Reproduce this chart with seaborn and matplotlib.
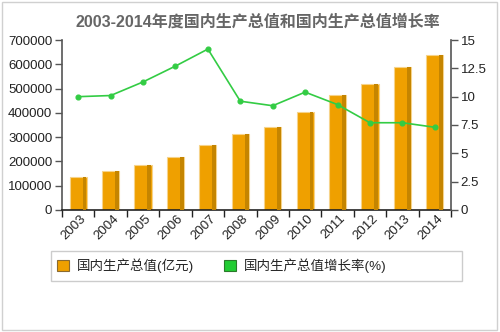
import numpy as np
import matplotlib
matplotlib.use("Agg")
import matplotlib.pyplot as plt
import matplotlib.transforms as mtrans
import seaborn as sns
from matplotlib.patches import Rectangle
from matplotlib.ticker import FixedLocator

years = ["2003", "2004", "2005", "2006", "2007", "2008", "2009", "2010", "2011", "2012", "2013", "2014"]
gdp = [135823, 159878, 184937, 216314, 265810, 314045, 340903, 401513, 473104, 519470, 588019, 636463]
growth = [10.0, 10.1, 11.3, 12.7, 14.2, 9.6, 9.2, 10.4, 9.3, 7.7, 7.7, 7.3]
left_ticks = [0, 100000, 200000, 300000, 400000, 500000, 600000, 700000]
right_ticks = [0, 2.5, 5, 7.5, 10, 12.5, 15]
right_labels = ["0", "2.5", "5", "7.5", "10", "12.5", "15"]
title = "2003-2014年度国内生产总值和国内生产总值增长率"
label_bar = "国内生产总值(亿元)"
label_line = "国内生产总值增长率(%)"

sns.set_theme(style="white")
FAM = ["Liberation Sans", "Noto Sans CJK SC", "DejaVu Sans"]
plt.rcParams["font.family"] = FAM

BAR = "#efa000"
DARK = "#c58500"
GREEN = "#33cc44"

fig = plt.figure(figsize=(5.0, 3.32), dpi=100)
ax = fig.add_axes([0.124, 0.3675, 0.778, 0.512])

bw = 0.53
sns.barplot(x=years, y=gdp, ax=ax, color=BAR, width=bw, saturation=1,
            edgecolor="#f6d38a", linewidth=0.8, zorder=2)
idx = np.arange(len(years))
ax.bar(idx + bw / 2 - 0.07, gdp, width=0.12, color=DARK, linewidth=0, zorder=3)

ax.set_xlim(-0.5, len(years) - 0.5)
ax.set_ylim(0, 700000)
ax.set_yticks(left_ticks)
ax.set_yticklabels([str(v) for v in left_ticks])
ax.set_xlabel("")
ax.set_ylabel("")
ax.xaxis.set_minor_locator(FixedLocator(np.arange(-0.5, len(years), 1.0)))
ax.tick_params(axis="x", which="major", length=0, pad=5, labelsize=9.5, labelcolor="#222222")
ax.tick_params(axis="x", which="minor", length=5, width=1, color="#222222", direction="out", bottom=True)
ax.tick_params(axis="y", length=5, width=1, color="#555555", direction="out", left=True,
               labelsize=9.5, labelcolor="#222222", pad=2)
offset = mtrans.ScaledTranslation(6 / 100, 0, fig.dpi_scale_trans)
for lab in ax.get_xticklabels():
    lab.set_rotation(45)
    lab.set_ha("right")
    lab.set_rotation_mode("anchor")
    lab.set_va("center")
    lab.set_transform(lab.get_transform() + offset)

for s in ["top", "right"]:
    ax.spines[s].set_visible(False)
ax.spines["left"].set_color("#555555")
ax.spines["bottom"].set_color("#222222")
ax.spines["left"].set_linewidth(1.2)
ax.spines["bottom"].set_linewidth(1.2)
ax.grid(False)

ax2 = ax.twinx()
sns.pointplot(x=years, y=growth, ax=ax2, color=GREEN, markersize=3.5, linewidth=1.2,
              errorbar=None, zorder=5)
ax2.set_xlim(-0.5, len(years) - 0.5)
ax2.set_ylim(0, 15)
ax2.set_yticks(right_ticks)
ax2.set_yticklabels(right_labels)
ax2.set_ylabel("")
ax2.tick_params(axis="y", length=5, width=1, color="#555555", direction="out", right=True,
                labelsize=9.5, labelcolor="#222222", pad=2)
for s in ["top", "left", "bottom"]:
    ax2.spines[s].set_visible(False)
ax2.spines["right"].set_color("#555555")
ax2.spines["right"].set_linewidth(1.2)
ax2.grid(False)

fig.text(0.515, 0.935, title, ha="center", va="center", fontsize=11.5, fontweight="bold",
         color="#666666", family=FAM)

# legend frame and legend
fig.patches.append(Rectangle((0.102, 0.1536), 0.822, 0.09, transform=fig.transFigure,
                             facecolor="white", edgecolor="#cccccc", linewidth=1))
h1 = Rectangle((0, 0), 1, 1, facecolor=BAR, edgecolor="#8a6a30", linewidth=0.8)
h2 = Rectangle((0, 0), 1, 1, facecolor="#22cc33", edgecolor="#2a7a2a", linewidth=0.8)
fig.legend([h1, h2], [label_bar, label_line], loc="center left",
           bbox_to_anchor=(0.114, 0.1986), ncol=2, frameon=False, fontsize=9.7,
           handlelength=0.9, handleheight=0.9, handletextpad=0.6, columnspacing=2.2,
           borderaxespad=0, borderpad=0)

fig.patches.append(Rectangle((0.004, 0.006), 0.99, 0.988, transform=fig.transFigure,
                             facecolor="none", edgecolor="#d0d0d0", linewidth=1))

fig.savefig("out.png", dpi=100)
